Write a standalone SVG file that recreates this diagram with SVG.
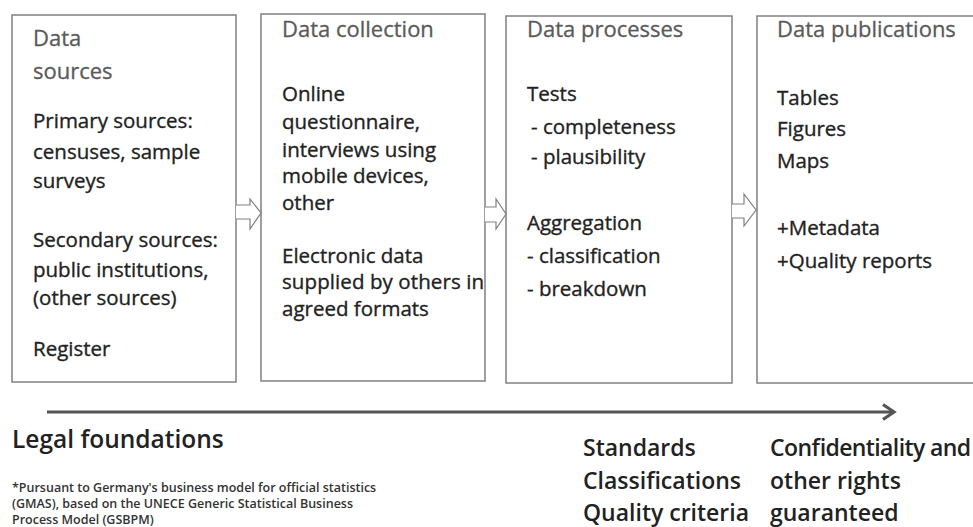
<svg xmlns="http://www.w3.org/2000/svg" width="973" height="527" viewBox="0 0 973 527">
<style>
.box{fill:#fff;stroke:#808080;stroke-width:1.5}
.hd{font-family:"Open Sans","Noto Sans",sans-serif;font-size:22px;font-weight:500;fill:#5a5a5a;stroke:#5a5a5a;stroke-width:0.3}
.tx{font-family:"Open Sans","Noto Sans",sans-serif;font-size:20.5px;font-weight:500;fill:#222;stroke:#222;stroke-width:0.35}
.big{font-family:"Open Sans","Noto Sans",sans-serif;font-size:23px;font-weight:600;fill:#222}
.fn{font-family:"Open Sans","Noto Sans",sans-serif;font-size:12.5px;font-weight:600;fill:#333}
.blk{fill:#fff;stroke:#808080;stroke-width:1.2}
</style>
<defs>
<marker id="ah" markerWidth="16" markerHeight="18" refX="13" refY="9" orient="auto" markerUnits="userSpaceOnUse" viewBox="0 0 16 18">
<path d="M2,1.5 L13,9 L2,16.5" fill="none" stroke="#555" stroke-width="3.2"/>
</marker>
</defs>
<rect width="973" height="527" fill="#fff"/>
<g id="sources">
<rect class="box" x="12" y="15" width="224" height="367"/>
<text class="hd" x="33" y="46">Data</text>
<text class="hd" x="33" y="79">sources</text>
<text class="tx" x="33" y="128">Primary sources:</text>
<text class="tx" x="33" y="159">censuses, sample</text>
<text class="tx" x="33" y="188">surveys</text>
<text class="tx" x="33" y="247">Secondary sources:</text>
<text class="tx" x="33" y="277">public institutions,</text>
<text class="tx" x="33" y="305">(other sources)</text>
<text class="tx" x="33" y="356">Register</text>
</g>
<g id="collection">
<rect class="box" x="261" y="14" width="224" height="367"/>
<text class="hd" x="282" y="37">Data collection</text>
<text class="tx" x="282" y="101">Online</text>
<text class="tx" x="282" y="129">questionnaire,</text>
<text class="tx" x="282" y="157">interviews using</text>
<text class="tx" x="282" y="183">mobile devices,</text>
<text class="tx" x="282" y="210">other</text>
<text class="tx" x="282" y="263">Electronic data</text>
<text class="tx" x="282" y="289" textLength="202">supplied by others in</text>
<text class="tx" x="282" y="316">agreed formats</text>
</g>
<g id="processes">
<rect class="box" x="506" y="16" width="226" height="367"/>
<text class="hd" x="527" y="37">Data processes</text>
<text class="tx" x="527" y="101">Tests</text>
<text class="tx" x="531" y="134">- completeness</text>
<text class="tx" x="531" y="164">- plausibility</text>
<text class="tx" x="527" y="230">Aggregation</text>
<text class="tx" x="527" y="263">- classification</text>
<text class="tx" x="527" y="296">- breakdown</text>
</g>
<g id="publications">
<rect class="box" x="757" y="16" width="230" height="367"/>
<text class="hd" x="777" y="37">Data publications</text>
<text class="tx" x="777" y="105">Tables</text>
<text class="tx" x="777" y="136">Figures</text>
<text class="tx" x="777" y="168">Maps</text>
<text class="tx" x="777" y="235">+Metadata</text>
<text class="tx" x="777" y="268">+Quality reports</text>
</g>
<g id="connectors">
<path class="blk" d="M236,205 H250 V199 L261,213 L250,229 V219 H236"/>
<path class="blk" d="M485,207 H496 V199 L506,214 L496,229 V222 H485"/>
<path class="blk" d="M732,204 H744 V194 L756,210 L744,226 V218 H732"/>
<line x1="47" y1="412" x2="894" y2="412" stroke="#555" stroke-width="3.2" marker-end="url(#ah)"/>
</g>
<g id="footer">
<text class="big" x="12" y="448" style="font-size:24.5px">Legal foundations</text>
<text class="fn" x="12" y="492">*Pursuant to Germany's business model for official statistics</text>
<text class="fn" x="12" y="508">(GMAS), based on the UNECE Generic Statistical Business</text>
<text class="fn" x="12" y="524">Process Model (GSBPM)</text>
<text class="big" x="583" y="456">Standards</text>
<text class="big" x="583" y="489">Classifications</text>
<text class="big" x="583" y="521">Quality criteria</text>
<text class="big" x="770" y="456" textLength="201">Confidentiality and</text>
<text class="big" x="770" y="489">other rights</text>
<text class="big" x="770" y="521">guaranteed</text>
</g>
</svg>
